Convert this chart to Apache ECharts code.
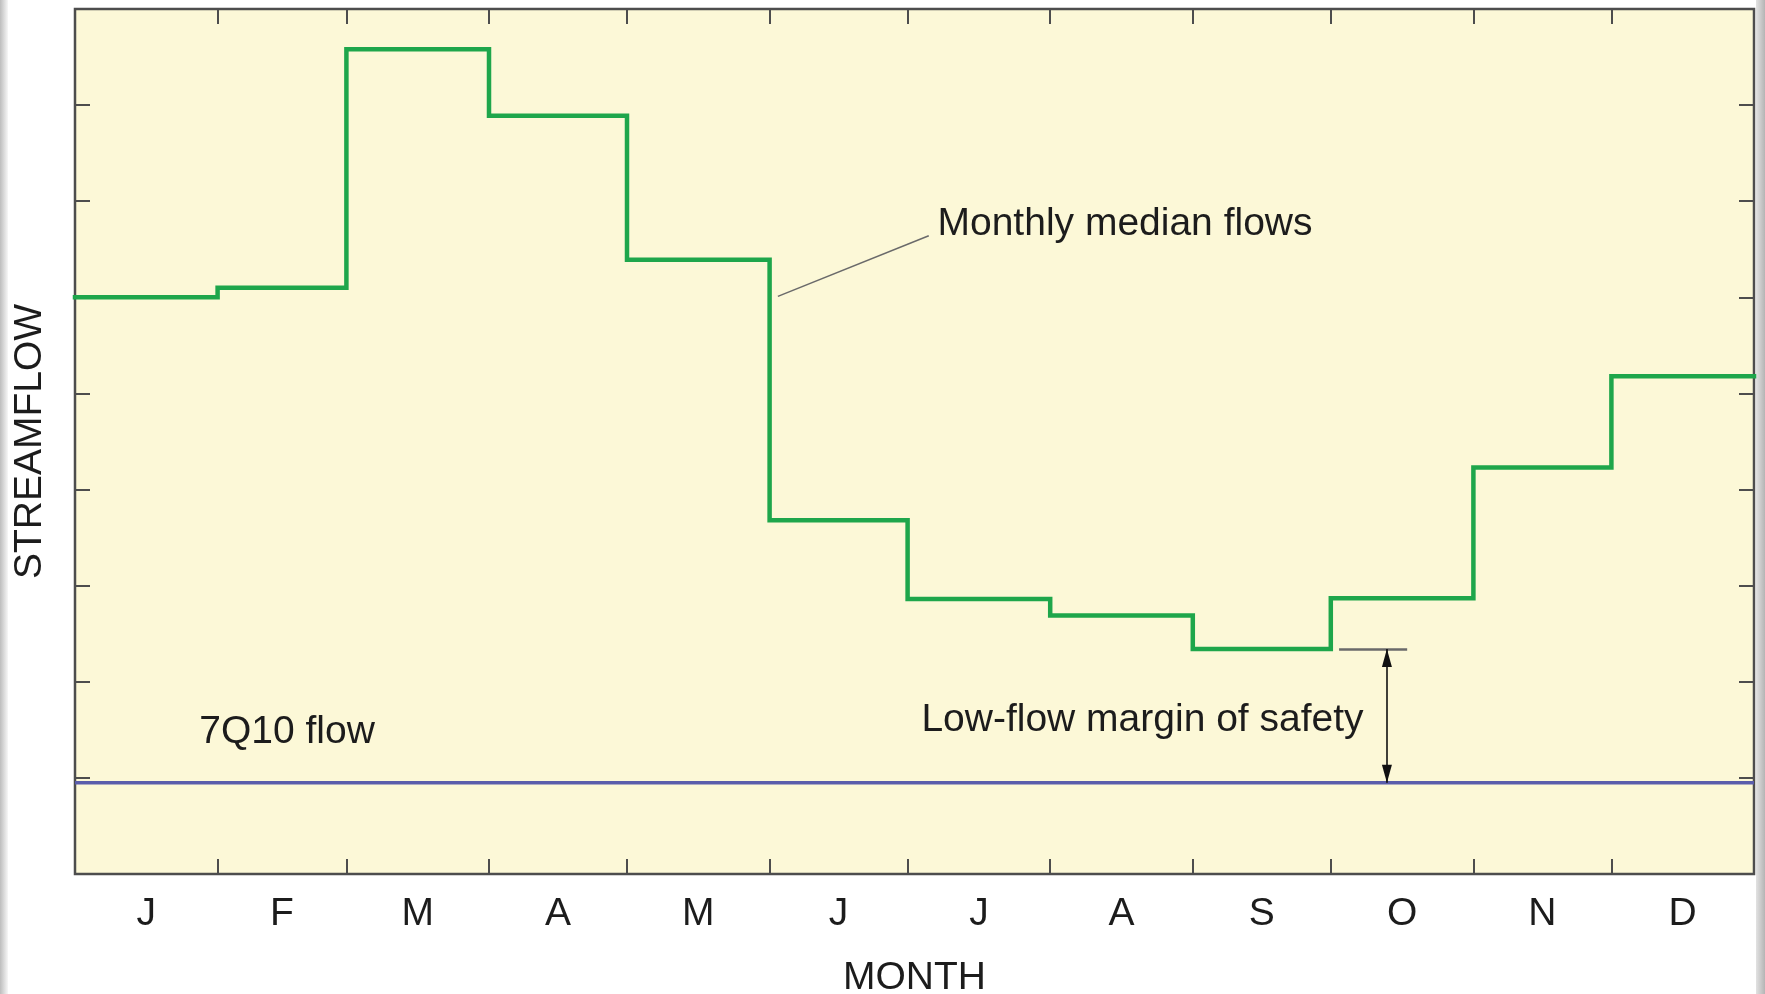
<!DOCTYPE html>
<html>
<head>
<meta charset="utf-8">
<script src="https://cdn.jsdelivr.net/npm/echarts@6/dist/echarts.min.js"></script>
<style>
  html, body { margin: 0; padding: 0; background: #ffffff; }
  #chart { width: 1765px; height: 994px; }
</style>
</head>
<body>
<div id="chart"></div>
<script>
// ---- data ----
const monthLabels = ['J', 'F', 'M', 'A', 'M', 'J', 'J', 'A', 'S', 'O', 'N', 'D'];
const daysInMonth = [31, 28, 31, 30, 31, 30, 31, 31, 30, 31, 30, 31];
const monthlyMedianFlow = [6.0, 6.1, 8.58, 7.89, 6.39, 3.68, 2.86, 2.69, 2.34, 2.87, 4.23, 5.18];
const flow7Q10 = 0.95;
const yMin = 0, yMax = 9, yInterval = 1;

// annotation anchors (day of year, streamflow units)
const annot = {
  q7Label: [27, 1.47],
  medianLabel: [187.5, 6.76],
  leaderFrom: [152.8, 6.01],
  leaderTo: [185.6, 6.64],
  marginLabel: [184, 1.6],
  marginX: 285.2,
  bracketFrom: 274.8,
  bracketTo: 289.6
};

// ---- derived ----
const monthStarts = [];
let acc = 0;
daysInMonth.forEach(d => { monthStarts.push(acc); acc += d; });
const yearDays = acc;
const boundaries = monthStarts.slice(1);
const mids = monthStarts.map((s, i) => s + daysInMonth[i] / 2);

const stepData = monthlyMedianFlow.map((v, i) => [monthStarts[i], v]);
stepData.push([yearDays, monthlyMedianFlow[monthlyMedianFlow.length - 1]]);

const minSept = monthlyMedianFlow[8];

const FONT = "'Liberation Sans', Arial, Helvetica, sans-serif";
const TXT = '#1c1c1c';
const AXC = '#4d4d4d';
const FS = 39;

const chart = echarts.init(document.getElementById('chart'), null, { renderer: 'canvas' });

const tickStyle = { color: AXC, width: 2 };

const option = {
  animation: false,
  backgroundColor: '#ffffff',
  textStyle: { fontFamily: FONT },
  grid: {
    left: 75, right: 11, top: 9, bottom: 120,
    outerBoundsMode: 'none',
    containLabel: false,
    show: true,
    backgroundColor: '#fcf8d7',
    borderColor: AXC,
    borderWidth: 2.5
  },
  xAxis: [
    {
      type: 'value', position: 'bottom', min: 0, max: yearDays,
      name: 'MONTH', nameLocation: 'middle', nameGap: 85,
      nameTextStyle: { fontSize: FS, color: TXT, fontFamily: FONT },
      axisLine: { show: false, onZero: false },
      splitLine: { show: false },
      axisTick: { show: true, inside: true, length: 15, customValues: boundaries, lineStyle: tickStyle },
      axisLabel: { show: true, margin: 21, fontSize: FS, color: TXT, fontFamily: FONT,
        customValues: mids,
        formatter: v => { const i = mids.findIndex(m => Math.abs(m - v) < 0.01); return i >= 0 ? monthLabels[i] : ''; } }
    },
    {
      type: 'value', position: 'top', min: 0, max: yearDays,
      axisLine: { show: false, onZero: false },
      splitLine: { show: false },
      axisTick: { show: true, inside: true, length: 15, customValues: boundaries, lineStyle: tickStyle },
      axisLabel: { show: false }
    }
  ],
  yAxis: [
    {
      type: 'value', position: 'left', min: yMin, max: yMax, interval: yInterval,
      name: 'STREAMFLOW', nameLocation: 'middle', nameGap: 25,
      nameTextStyle: { fontSize: FS, color: TXT, fontFamily: FONT },
      axisLine: { show: false, onZero: false },
      splitLine: { show: false },
      axisTick: { show: true, inside: true, length: 15, lineStyle: tickStyle },
      axisLabel: { show: false }
    },
    {
      type: 'value', position: 'right', min: yMin, max: yMax, interval: yInterval,
      axisLine: { show: false, onZero: false },
      splitLine: { show: false },
      axisTick: { show: true, inside: true, length: 15, lineStyle: tickStyle },
      axisLabel: { show: false }
    }
  ],
  series: [
    {
      name: 'Monthly median flows',
      type: 'line',
      step: 'end',
      data: stepData,
      symbol: 'none',
      silent: true,
      z: 3,
      lineStyle: { color: '#1ea64b', width: 4.5, join: 'miter', cap: 'square' }
    },
    {
      name: '7Q10 flow',
      type: 'line',
      data: [[0, flow7Q10], [yearDays, flow7Q10]],
      symbol: 'none',
      silent: true,
      z: 2,
      lineStyle: { color: '#5a5dab', width: 3.5 },
      markLine: {
        silent: true,
        animation: false,
        label: { show: false },
        emphasis: { disabled: true },
        data: [
          [
            { coord: annot.leaderFrom, symbol: 'none', lineStyle: { color: '#6a6a6a', width: 1.6, type: 'solid' } },
            { coord: annot.leaderTo, symbol: 'none' }
          ],
          [
            { coord: [annot.bracketFrom, minSept], symbol: 'none', lineStyle: { color: '#6a6a6a', width: 2.5, type: 'solid' } },
            { coord: [annot.bracketTo, minSept], symbol: 'none' }
          ],
          [
            { coord: [annot.marginX, minSept], symbol: 'triangle', symbolSize: [10, 18], symbolOffset: [0, 9],
              lineStyle: { color: '#111', width: 1.6, type: 'solid' } },
            { coord: [annot.marginX, flow7Q10], symbol: 'triangle', symbolSize: [10, 18], symbolOffset: [0, 9] }
          ]
        ]
      },
      markPoint: {
        silent: true,
        animation: false,
        symbol: 'circle',
        symbolSize: 0,
        itemStyle: { color: 'transparent' },
        label: { show: true, position: 'inside', align: 'left', verticalAlign: 'middle',
          fontSize: FS, color: TXT, fontFamily: FONT },
        data: [
          { coord: annot.q7Label, label: { formatter: '7Q10 flow' } },
          { coord: annot.medianLabel, label: { formatter: 'Monthly median flows' } },
          { coord: annot.marginLabel, label: { formatter: 'Low-flow margin of safety' } }
        ]
      }
    }
  ],
  graphic: [
    { type: 'rect', left: 0, top: 0, shape: { width: 8, height: 994 }, silent: true,
      style: { fill: new echarts.graphic.LinearGradient(0, 0, 1, 0, [
        { offset: 0, color: '#bdbdbd' }, { offset: 1, color: '#f7f7f7' }]) } },
    { type: 'rect', right: 0, top: 0, shape: { width: 9, height: 994 }, silent: true,
      style: { fill: new echarts.graphic.LinearGradient(0, 0, 1, 0, [
        { offset: 0, color: '#e2e2e2' }, { offset: 1, color: '#b4b4b4' }]) } }
  ]
};

chart.setOption(option);
</script>
</body>
</html>
